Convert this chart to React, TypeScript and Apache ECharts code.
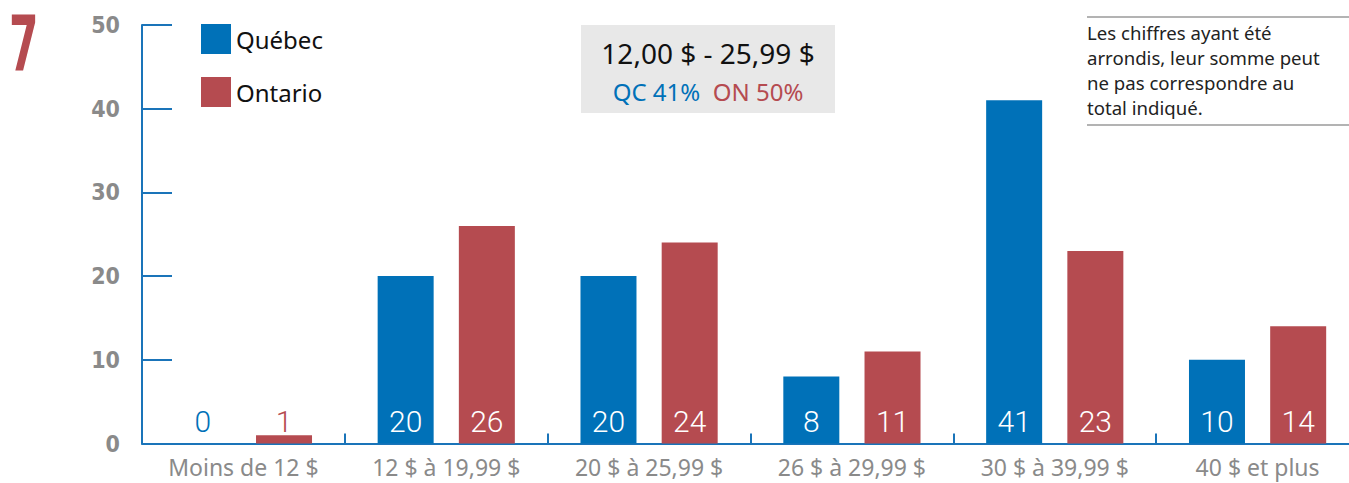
import React, { useEffect, useRef } from "react";
import * as echarts from "echarts";

const categories = ["Moins de 12 $", "12 $ à 19,99 $", "20 $ à 25,99 $", "26 $ à 29,99 $", "30 $ à 39,99 $", "40 $ et plus"];
const quebec = [0, 20, 20, 8, 41, 10];
const ontario = [1, 26, 24, 11, 23, 14];
const yTicks = { min: 0, max: 50, interval: 10 };
const boxTitle = "12,00 $ - 25,99 $";
const boxQC = "QC 41%";
const boxON = "ON 50%";
const noteText = "Les chiffres ayant été\narrondis, leur somme peut\nne pas correspondre au\ntotal indiqué.";
const chartNumber = "7";

const BLUE = "#0071b8";
const RED = "#b54b50";
const AXIS = "#1a74b9";
const GREY = "#8a8a8a";

export default function App() {
  const ref = useRef<HTMLDivElement>(null);
  useEffect(() => {
    if (!ref.current) return;
    const chart = echarts.init(ref.current, null, { renderer: "svg" });
    const mk = (vals: number[], color: string) =>
      vals.map((v) => (v < 5 ? { value: v, label: { color } } : { value: v }));
    const barLabel = {
      show: true,
      position: "insideBottom",
      distance: 7,
      color: "#fff",
      fontSize: 30,
      fontFamily: "Roboto",
      fontWeight: 300,
    };
    chart.setOption({
      animation: false,
      grid: { left: 142, right: 1, top: 25, bottom: 39.5, containLabel: false },
      legend: {
        orient: "vertical",
        left: 196,
        top: 19,
        itemWidth: 30,
        itemHeight: 30,
        itemGap: 23,
        icon: "rect",
        textStyle: { fontSize: 24, color: "#111", fontFamily: "Noto Sans" },
        data: ["Québec", "Ontario"],
      },
      xAxis: {
        type: "category",
        data: categories,
        axisLine: { lineStyle: { color: AXIS, width: 2 } },
        axisTick: { show: true, inside: true, length: 10, lineStyle: { color: AXIS, width: 2 } },
        axisLabel: { color: GREY, fontSize: 23, margin: 12, fontFamily: "Noto Sans" },
      },
      yAxis: {
        type: "value",
        min: yTicks.min,
        max: yTicks.max,
        interval: yTicks.interval,
        axisLine: { show: true, lineStyle: { color: AXIS, width: 2 } },
        axisTick: { show: true, inside: true, length: 30, lineStyle: { color: AXIS, width: 2 } },
        splitLine: { show: false },
        axisLabel: {
          color: GREY,
          fontSize: 23,
          fontWeight: "bold",
          fontFamily: "DejaVu Sans Condensed",
          margin: 22,
        },
      },
      series: [
        {
          name: "Québec",
          type: "bar",
          data: mk(quebec, BLUE),
          barWidth: 56,
          barGap: "45%",
          itemStyle: { color: BLUE },
          label: barLabel,
        },
        {
          name: "Ontario",
          type: "bar",
          data: mk(ontario, RED),
          barWidth: 56,
          barGap: "45%",
          itemStyle: { color: RED },
          label: barLabel,
        },
      ],
      graphic: [
        {
          type: "text",
          x: 9,
          y: 6,
          scaleX: 0.62,
          style: {
            text: chartNumber,
            fill: RED,
            font: "bold 76px 'DejaVu Sans Condensed'",
            textVerticalAlign: "top",
          },
        },
        {
          type: "rect",
          shape: { x: 581, y: 25, width: 254, height: 88 },
          style: { fill: "#e8e8e8" },
        },
        {
          type: "text",
          x: 708,
          y: 53,
          style: {
            text: boxTitle,
            fill: "#111",
            font: "28px 'Noto Sans'",
            textAlign: "center",
            textVerticalAlign: "middle",
          },
        },
        {
          type: "text",
          x: 708,
          y: 91,
          style: {
            text: "{a|" + boxQC + "}  {b|" + boxON + "}",
            textAlign: "center",
            textVerticalAlign: "middle",
            rich: {
              a: { fill: BLUE, fontSize: 24, fontFamily: "Noto Sans" },
              b: { fill: RED, fontSize: 24, fontFamily: "Noto Sans" },
            },
            font: "24px 'Noto Sans'",
          },
        },
        {
          type: "line",
          shape: { x1: 1087, y1: 17, x2: 1349, y2: 17 },
          style: { stroke: "#9a9a9a", lineWidth: 1.5 },
        },
        {
          type: "line",
          shape: { x1: 1087, y1: 125, x2: 1349, y2: 125 },
          style: { stroke: "#9a9a9a", lineWidth: 1.5 },
        },
        {
          type: "text",
          x: 1087,
          y: 20,
          style: {
            text: noteText,
            fill: "#222",
            font: "18.6px 'Noto Sans'",
            lineHeight: 25,
            textVerticalAlign: "top",
          },
        },
      ],
    });
    return () => chart.dispose();
  }, []);
  return (
    <div style={{ position: "absolute", left: 0, top: 0, width: 1349, height: 483, overflow: "hidden", background: "#fff" }}>
      <div ref={ref} style={{ width: 1360, height: 483 }} />
    </div>
  );
}
